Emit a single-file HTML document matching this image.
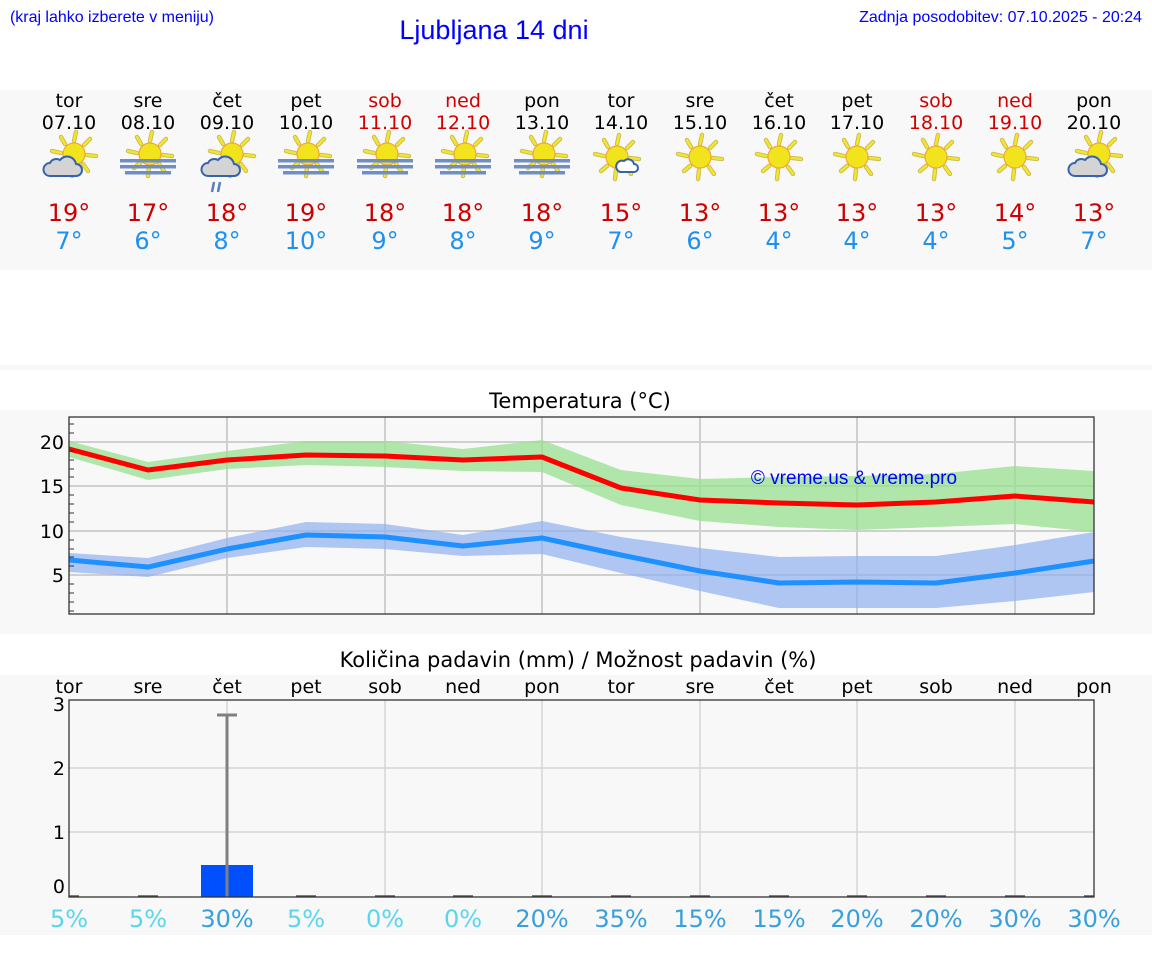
<!DOCTYPE html>
<html><head><meta charset="utf-8"><style>
body{margin:0;background:#fff}
svg{display:block;font-family:"DejaVu Sans","Liberation Sans",sans-serif}
.l{font-family:"Liberation Sans",sans-serif}
</style></head><body>
<svg width="1152" height="975" viewBox="0 0 1152 975" xmlns="http://www.w3.org/2000/svg">
<defs>
<g id="sun">
 <g stroke="#c9b85a" stroke-width="4.4" stroke-linecap="round">
  <line x1="0" y1="-13" x2="2" y2="-22"/><line x1="10" y1="-9" x2="16" y2="-15"/><line x1="13" y1="1" x2="22" y2="2"/><line x1="9" y1="10" x2="14" y2="17"/><line x1="-1" y1="13" x2="-2" y2="22"/><line x1="-10" y1="9" x2="-16" y2="14"/><line x1="-13" y1="-1" x2="-22" y2="-3"/><line x1="-9" y1="-10" x2="-13" y2="-17"/>
 </g>
 <g stroke="#f3e62a" stroke-width="2.6" stroke-linecap="round">
  <line x1="0" y1="-13" x2="2" y2="-22"/><line x1="10" y1="-9" x2="16" y2="-15"/><line x1="13" y1="1" x2="22" y2="2"/><line x1="9" y1="10" x2="14" y2="17"/><line x1="-1" y1="13" x2="-2" y2="22"/><line x1="-10" y1="9" x2="-16" y2="14"/><line x1="-13" y1="-1" x2="-22" y2="-3"/><line x1="-9" y1="-10" x2="-13" y2="-17"/>
 </g>
 <circle r="11" fill="#f2e41c" stroke="#f0a838" stroke-width="1.2"/>
</g>
<g id="fog"><use href="#sun" x="2" y="-2"/>
 <rect x="-28" y="3" width="56" height="3.5" fill="#6f8fc4"/>
 <rect x="-28" y="9" width="56" height="3.5" fill="#6f8fc4"/>
 <rect x="-23" y="15" width="46" height="3.5" fill="#6f8fc4"/>
</g>
<path id="cloud" d="M-14 10 h26 a6 6 0 0 0 0-12 a9 9 0 0 0-16-4 a7 7 0 0 0-10 3 a6.5 6.5 0 0 0 0 13z" fill="#d4d4d4" stroke="#3763ab" stroke-width="2"/>
<g id="sc"><use href="#sun" x="5" y="-6"/><use href="#cloud" x="-5" y="6"/></g>
</defs>

<text class="l" x="10" y="22" font-size="16" fill="#0000ff" textLength="204">(kraj lahko izberete v meniju)</text>
<text class="l" x="494" y="39" font-size="27" fill="#0000ff" text-anchor="middle">Ljubljana 14 dni</text>
<text class="l" x="1142" y="22" font-size="16" fill="#0000ff" text-anchor="end">Zadnja posodobitev: 07.10.2025 - 20:24</text>

<rect x="0" y="90" width="1152" height="180" fill="#f8f8f8"/>
<rect x="0" y="365" width="1152" height="5" fill="#f8f8f8"/>
<rect x="0" y="410" width="1152" height="224" fill="#f8f8f8"/>
<rect x="0" y="675" width="1152" height="260" fill="#f8f8f8"/>

<g font-size="19" text-anchor="middle">
<g fill="#000">
<text x="69" y="107">tor</text><text x="148" y="107">sre</text><text x="227" y="107">čet</text><text x="306" y="107">pet</text><text x="542" y="107">pon</text><text x="621" y="107">tor</text><text x="700" y="107">sre</text><text x="779" y="107">čet</text><text x="857" y="107">pet</text><text x="1094" y="107">pon</text>
<text x="69" y="129">07.10</text><text x="148" y="129">08.10</text><text x="227" y="129">09.10</text><text x="306" y="129">10.10</text><text x="542" y="129">13.10</text><text x="621" y="129">14.10</text><text x="700" y="129">15.10</text><text x="779" y="129">16.10</text><text x="857" y="129">17.10</text><text x="1094" y="129">20.10</text>
</g>
<g fill="#d00000">
<text x="385" y="107">sob</text><text x="463" y="107">ned</text><text x="936" y="107">sob</text><text x="1015" y="107">ned</text>
<text x="385" y="129">11.10</text><text x="463" y="129">12.10</text><text x="936" y="129">18.10</text><text x="1015" y="129">19.10</text>
</g>
</g>

<use href="#sc" x="69" y="160"/>
<use href="#fog" x="148" y="156"/>
<use href="#sc" x="227" y="160"/>
<g stroke="#5a7fb8" stroke-width="2.5"><line x1="214" y1="182" x2="212" y2="192"/><line x1="220" y1="182" x2="218" y2="192"/></g>
<use href="#fog" x="306" y="156"/><use href="#fog" x="385" y="156"/><use href="#fog" x="463" y="156"/><use href="#fog" x="542" y="156"/>
<use href="#sun" x="617" y="157"/>
<path d="M620 172 h14 a4 4 0 0 0 0-8 a6 6 0 0 0-10-3 a5 5 0 0 0-4 11z" fill="#fff" stroke="#3763ab" stroke-width="2"/>
<use href="#sun" x="700" y="157"/><use href="#sun" x="779" y="157"/><use href="#sun" x="857" y="157"/><use href="#sun" x="936" y="157"/><use href="#sun" x="1015" y="157"/>
<use href="#sc" x="1094" y="160"/>

<g font-size="24" text-anchor="middle">
<g fill="#cc0000">
<text x="69" y="221">19°</text><text x="148" y="221">17°</text><text x="227" y="221">18°</text><text x="306" y="221">19°</text><text x="385" y="221">18°</text><text x="463" y="221">18°</text><text x="542" y="221">18°</text><text x="621" y="221">15°</text><text x="700" y="221">13°</text><text x="779" y="221">13°</text><text x="857" y="221">13°</text><text x="936" y="221">13°</text><text x="1015" y="221">14°</text><text x="1094" y="221">13°</text>
</g>
<g fill="#2090f0">
<text x="69" y="249">7°</text><text x="148" y="249">6°</text><text x="227" y="249">8°</text><text x="306" y="249">10°</text><text x="385" y="249">9°</text><text x="463" y="249">8°</text><text x="542" y="249">9°</text><text x="621" y="249">7°</text><text x="700" y="249">6°</text><text x="779" y="249">4°</text><text x="857" y="249">4°</text><text x="936" y="249">4°</text><text x="1015" y="249">5°</text><text x="1094" y="249">7°</text>
</g>
</g>

<text x="580" y="408" font-size="21" text-anchor="middle" fill="#000">Temperatura (°C)</text>
<g stroke="#cfcfcf" stroke-width="2">
<line x1="69" y1="442" x2="1094" y2="442"/><line x1="69" y1="486" x2="1094" y2="486"/><line x1="69" y1="531" x2="1094" y2="531"/><line x1="69" y1="575" x2="1094" y2="575"/>
<line x1="227" y1="417" x2="227" y2="614"/><line x1="385" y1="417" x2="385" y2="614"/><line x1="542" y1="417" x2="542" y2="614"/><line x1="700" y1="417" x2="700" y2="614"/><line x1="857" y1="417" x2="857" y2="614"/><line x1="1015" y1="417" x2="1015" y2="614"/>
</g>
<polygon fill="#98e090" fill-opacity="0.75" points="69,441 148,462 227,451 306,441 385,441 463,449 542,440 621,470 700,479 779,477 857,476 936,474 1015,466 1094,471 1094,532 1015,524 936,527 857,530 779,527 700,521 621,505 542,472 463,471 385,467 306,465 227,469 148,480 69,457"/>
<polygon fill="#90b0f0" fill-opacity="0.7" points="69,553 148,558 227,538 306,522 385,524 463,535 542,521 621,537 700,548 779,557 857,556 936,556 1015,545 1094,532 1094,592 1015,601 936,608 857,608 779,608 700,591 621,573 542,554 463,556 385,549 306,547 227,558 148,577 69,572"/>
<polyline fill="none" stroke="#ff0000" stroke-width="5" stroke-linejoin="round" points="69,449 148,470 227,460 306,455 385,456 463,460 542,457 621,488 700,500 779,503 857,505 936,502 1015,496 1094,502"/>
<polyline fill="none" stroke="#1e90ff" stroke-width="5" stroke-linejoin="round" points="69,560 148,567 227,549 306,535 385,537 463,546 542,538 621,555 700,571 779,583 857,582 936,583 1015,573 1094,561"/>
<rect x="69" y="417" width="1025" height="197" fill="none" stroke="#333" stroke-width="1.3"/>
<g stroke="#333" stroke-width="1">
<line x1="69" y1="424" x2="74" y2="424"/><line x1="69" y1="433" x2="74" y2="433"/><line x1="69" y1="451" x2="74" y2="451"/><line x1="69" y1="460" x2="74" y2="460"/><line x1="69" y1="469" x2="74" y2="469"/><line x1="69" y1="477" x2="74" y2="477"/><line x1="69" y1="495" x2="74" y2="495"/><line x1="69" y1="504" x2="74" y2="504"/><line x1="69" y1="513" x2="74" y2="513"/><line x1="69" y1="522" x2="74" y2="522"/><line x1="69" y1="540" x2="74" y2="540"/><line x1="69" y1="549" x2="74" y2="549"/><line x1="69" y1="557" x2="74" y2="557"/><line x1="69" y1="566" x2="74" y2="566"/><line x1="69" y1="584" x2="74" y2="584"/><line x1="69" y1="593" x2="74" y2="593"/><line x1="69" y1="602" x2="74" y2="602"/><line x1="69" y1="611" x2="74" y2="611"/>
</g>
<g font-size="19" text-anchor="end" fill="#000">
<text x="64" y="449">20</text><text x="64" y="493">15</text><text x="64" y="538">10</text><text x="64" y="582">5</text>
</g>
<text class="l" x="854" y="484" font-size="19" fill="#0000ff" text-anchor="middle">© vreme.us &amp; vreme.pro</text>

<text x="578" y="667" font-size="21" text-anchor="middle" fill="#000">Količina padavin (mm) / Možnost padavin (%)</text>
<g font-size="19" text-anchor="middle" fill="#000">
<text x="69" y="693">tor</text><text x="148" y="693">sre</text><text x="227" y="693">čet</text><text x="306" y="693">pet</text><text x="385" y="693">sob</text><text x="463" y="693">ned</text><text x="542" y="693">pon</text><text x="621" y="693">tor</text><text x="700" y="693">sre</text><text x="779" y="693">čet</text><text x="857" y="693">pet</text><text x="936" y="693">sob</text><text x="1015" y="693">ned</text><text x="1094" y="693">pon</text>
</g>
<g stroke="#d6d6d6" stroke-width="1.5">
<line x1="69" y1="768" x2="1094" y2="768"/><line x1="69" y1="832" x2="1094" y2="832"/>
<line x1="227" y1="700" x2="227" y2="897"/><line x1="385" y1="700" x2="385" y2="897"/><line x1="542" y1="700" x2="542" y2="897"/><line x1="700" y1="700" x2="700" y2="897"/><line x1="857" y1="700" x2="857" y2="897"/><line x1="1015" y1="700" x2="1015" y2="897"/>
</g>
<rect x="201" y="865" width="52" height="32" fill="#0050ff"/>
<g stroke="#808080" stroke-width="3"><line x1="227" y1="715" x2="227" y2="897"/><line x1="217" y1="715" x2="237" y2="715"/></g>
<g stroke="#555" stroke-width="1.5">
<line x1="69" y1="896" x2="79" y2="896"/><line x1="138" y1="896" x2="158" y2="896"/><line x1="296" y1="896" x2="316" y2="896"/><line x1="375" y1="896" x2="395" y2="896"/><line x1="453" y1="896" x2="473" y2="896"/><line x1="532" y1="896" x2="552" y2="896"/><line x1="611" y1="896" x2="631" y2="896"/><line x1="690" y1="896" x2="710" y2="896"/><line x1="769" y1="896" x2="789" y2="896"/><line x1="847" y1="896" x2="867" y2="896"/><line x1="926" y1="896" x2="946" y2="896"/><line x1="1005" y1="896" x2="1025" y2="896"/><line x1="1084" y1="896" x2="1094" y2="896"/>
</g>
<rect x="69" y="700" width="1025" height="197" fill="none" stroke="#333" stroke-width="1.3"/>
<g font-size="19" text-anchor="end" fill="#000">
<text x="65" y="711">3</text><text x="65" y="775">2</text><text x="65" y="839">1</text><text x="65" y="893">0</text>
</g>
<g font-size="24" text-anchor="middle">
<g fill="#5ad6ea"><text x="69" y="927">5%</text><text x="148" y="927">5%</text><text x="306" y="927">5%</text><text x="385" y="927">0%</text><text x="463" y="927">0%</text></g>
<g fill="#37a0dc"><text x="227" y="927">30%</text><text x="542" y="927">20%</text><text x="621" y="927">35%</text><text x="700" y="927">15%</text><text x="779" y="927">15%</text><text x="857" y="927">20%</text><text x="936" y="927">20%</text><text x="1015" y="927">30%</text><text x="1094" y="927">30%</text></g>
</g>
</svg>
</body></html>
